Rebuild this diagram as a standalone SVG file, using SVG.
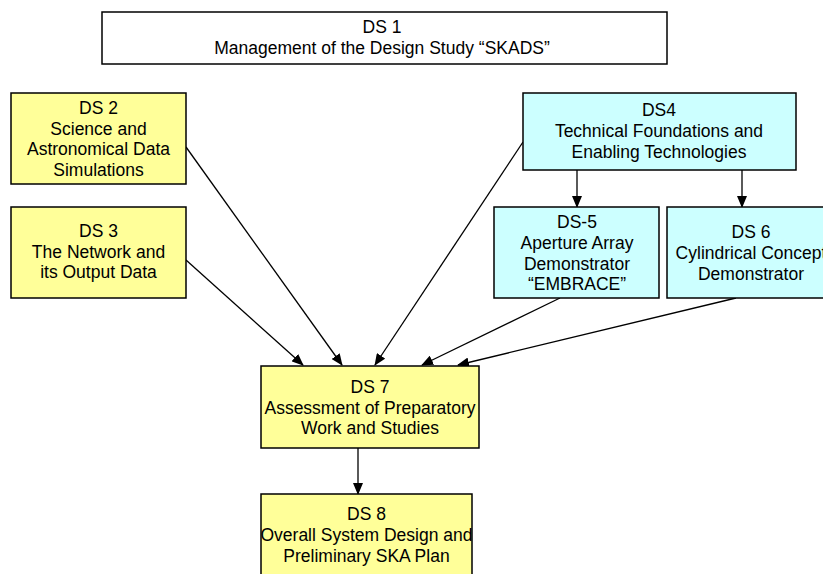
<svg xmlns="http://www.w3.org/2000/svg" width="823" height="574" viewBox="0 0 823 574">
<style>
.box{stroke:#000;stroke-width:1.5}
.y{fill:#FFFF99}
.c{fill:#CCFFFF}
.w{fill:#FFFFFF}
text{font-family:"Liberation Sans",Arial,sans-serif;font-size:17.5px;fill:#000;text-anchor:middle}
.con{stroke:#000;stroke-width:1.3;fill:none;marker-end:url(#ah)}
</style>
<defs>
<marker id="ah" markerWidth="12" markerHeight="10" refX="11" refY="5" orient="auto" markerUnits="userSpaceOnUse">
<path d="M0,0 L12,5 L0,10 Z" fill="#000"/>
</marker>
</defs>
<rect width="823" height="574" fill="#fff"/>
<g id="connectors">
<line class="con" x1="186" y1="147" x2="342" y2="365"/>
<line class="con" x1="186" y1="260" x2="303" y2="365"/>
<line class="con" x1="523" y1="142" x2="375" y2="365"/>
<line class="con" x1="560" y1="298" x2="422" y2="365"/>
<line class="con" x1="736" y1="298" x2="458" y2="365"/>
<line class="con" x1="577" y1="170" x2="577" y2="207"/>
<line class="con" x1="742" y1="170" x2="742" y2="207"/>
<line class="con" x1="358" y1="448" x2="358" y2="494"/>
</g>
<g id="ds1">
<rect class="box w" x="102" y="12" width="565" height="52"/>
<text x="382" y="33">DS 1</text>
<text x="382" y="54">Management of the Design Study “SKADS”</text>
</g>
<g id="ds2">
<rect class="box y" x="11" y="93" width="175" height="91"/>
<text x="98.5" y="114">DS 2</text>
<text x="98.5" y="134.5">Science and</text>
<text x="98.5" y="155">Astronomical  Data</text>
<text x="98.5" y="175.5">Simulations</text>
</g>
<g id="ds3">
<rect class="box y" x="11" y="207" width="175" height="91"/>
<text x="98.5" y="237">DS 3</text>
<text x="98.5" y="257.5">The Network and</text>
<text x="98.5" y="278">its Output Data</text>
</g>
<g id="ds4">
<rect class="box c" x="523" y="93" width="273" height="77"/>
<text x="659" y="116">DS4</text>
<text x="659" y="137">Technical Foundations and</text>
<text x="659" y="158">Enabling Technologies</text>
</g>
<g id="ds5">
<rect class="box c" x="494" y="207" width="165" height="91"/>
<text x="577" y="228">DS-5</text>
<text x="577" y="249">Aperture Array</text>
<text x="577" y="270">Demonstrator</text>
<text x="577" y="290">“EMBRACE”</text>
</g>
<g id="ds6">
<rect class="box c" x="667" y="207" width="169" height="91"/>
<text x="751" y="238">DS 6</text>
<text x="751" y="258.5">Cylindrical  Concept</text>
<text x="751" y="280">Demonstrator</text>
</g>
<g id="ds7">
<rect class="box y" x="261" y="366" width="218" height="82"/>
<text x="370" y="392.5">DS 7</text>
<text x="370" y="414">Assessment of Preparatory</text>
<text x="370" y="434">Work and Studies</text>
</g>
<g id="ds8">
<rect class="box y" x="261" y="494" width="211" height="90"/>
<text x="366.5" y="520">DS 8</text>
<text x="366.5" y="541">Overall System Design and</text>
<text x="366.5" y="562">Preliminary SKA Plan</text>
</g>
</svg>
